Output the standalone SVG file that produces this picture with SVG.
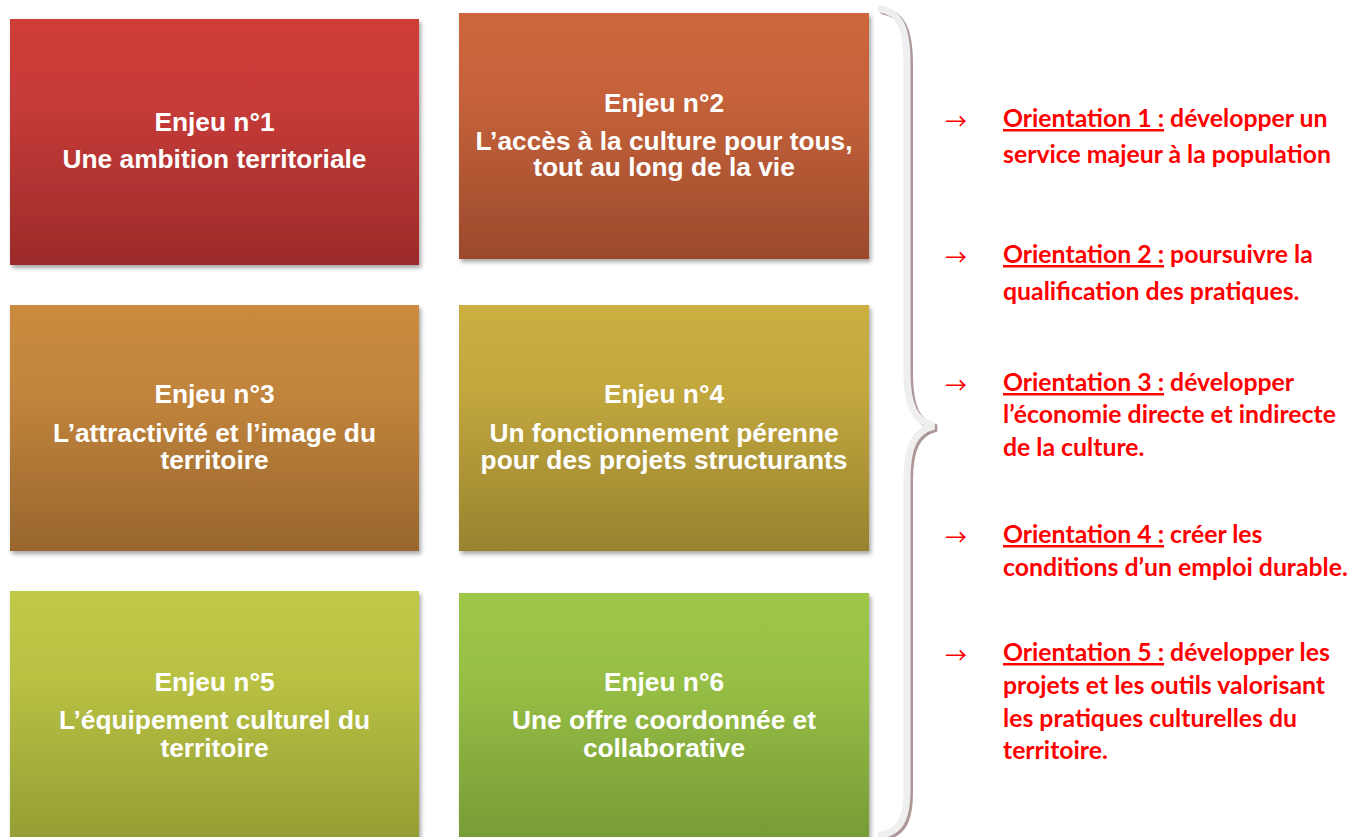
<svg xmlns="http://www.w3.org/2000/svg" width="1356" height="837" viewBox="0 0 1356 837">
<defs>
<linearGradient id="g1" x1="0" y1="0" x2="0" y2="1"><stop offset="0" stop-color="#cf3c39"/><stop offset="0.35" stop-color="#c63b38"/><stop offset="1" stop-color="#9b2b29"/></linearGradient>
<linearGradient id="g2" x1="0" y1="0" x2="0" y2="1"><stop offset="0" stop-color="#cd663c"/><stop offset="0.35" stop-color="#c5623a"/><stop offset="1" stop-color="#9b4a2c"/></linearGradient>
<linearGradient id="g3" x1="0" y1="0" x2="0" y2="1"><stop offset="0" stop-color="#ca8b3f"/><stop offset="0.35" stop-color="#c2853c"/><stop offset="1" stop-color="#98662e"/></linearGradient>
<linearGradient id="g4" x1="0" y1="0" x2="0" y2="1"><stop offset="0" stop-color="#cbaf41"/><stop offset="0.35" stop-color="#c2a73e"/><stop offset="1" stop-color="#98832f"/></linearGradient>
<linearGradient id="g5" x1="0" y1="0" x2="0" y2="1"><stop offset="0" stop-color="#c0c946"/><stop offset="0.35" stop-color="#b8c143"/><stop offset="1" stop-color="#949e34"/></linearGradient>
<linearGradient id="g6" x1="0" y1="0" x2="0" y2="1"><stop offset="0" stop-color="#9ec749"/><stop offset="0.35" stop-color="#97bf45"/><stop offset="1" stop-color="#779a36"/></linearGradient>
<filter id="sh" x="-5%" y="-5%" width="112%" height="115%"><feDropShadow dx="2" dy="3" stdDeviation="2.2" flood-color="#000" flood-opacity="0.35"/></filter>
<style>
.bt{font-family:"Liberation Sans",Arial,sans-serif;font-weight:bold;font-size:26.3px;fill:#ffffff;text-anchor:middle}
.ot{font-family:Lato,"Liberation Sans",sans-serif;font-weight:bold;font-size:24.8px;fill:#ff0000}
.ar{font-family:"Noto Sans CJK SC",sans-serif;font-size:22px;fill:#ff0000}
.ul{text-decoration:underline}
</style>
</defs>
<rect width="1356" height="837" fill="#ffffff"/>
<g id="enjeu1"><rect x="10" y="19" width="409" height="246" fill="url(#g1)" filter="url(#sh)"/>
<text class="bt" x="214.5" y="131">Enjeu n°1</text><text class="bt" x="214.5" y="168">Une ambition territoriale</text></g>
<g id="enjeu2"><rect x="459" y="13" width="410" height="246" fill="url(#g2)" filter="url(#sh)"/>
<text class="bt" x="664" y="112">Enjeu n°2</text><text class="bt" x="664" y="150">L’accès à la culture pour tous,</text><text class="bt" x="664" y="176">tout au long de la vie</text></g>
<g id="enjeu3"><rect x="10" y="305" width="409" height="246" fill="url(#g3)" filter="url(#sh)"/>
<text class="bt" x="214.5" y="403">Enjeu n°3</text><text class="bt" x="214.5" y="442">L’attractivité et l’image du</text><text class="bt" x="214.5" y="469">territoire</text></g>
<g id="enjeu4"><rect x="459" y="305" width="410" height="246" fill="url(#g4)" filter="url(#sh)"/>
<text class="bt" x="664" y="403">Enjeu n°4</text><text class="bt" x="664" y="442">Un fonctionnement pérenne</text><text class="bt" x="664" y="469">pour des projets structurants</text></g>
<g id="enjeu5"><rect x="10" y="591" width="409" height="250" fill="url(#g5)" filter="url(#sh)"/>
<text class="bt" x="214.5" y="691">Enjeu n°5</text><text class="bt" x="214.5" y="729">L’équipement culturel du</text><text class="bt" x="214.5" y="757">territoire</text></g>
<g id="enjeu6"><rect x="459" y="593" width="410" height="250" fill="url(#g6)" filter="url(#sh)"/>
<text class="bt" x="664" y="691">Enjeu n°6</text><text class="bt" x="664" y="729">Une offre coordonnée et</text><text class="bt" x="664" y="757">collaborative</text></g>
<g id="connectors">
<path d="M881 9 C898 12 907 26 907 62 L907 372 C907 405 914 421 934 426 C914 431 907 447 907 480 L907 790 C907 822 898 832 881 835" fill="none" stroke="#ae9797" stroke-width="7" stroke-linecap="round" transform="translate(2.5,2)"/>
<path d="M881 9 C898 12 907 26 907 62 L907 372 C907 405 914 421 934 426 C914 431 907 447 907 480 L907 790 C907 822 898 832 881 835" fill="none" stroke="#efefef" stroke-width="7" stroke-linecap="round"/>
</g>
<g id="orientation1"><text class="ar" x="945" y="129">→</text>
<text class="ot" x="1003" y="127"><tspan class="ul">Orientation 1 :</tspan> développer un</text><text class="ot" x="1003" y="163">service majeur à la population</text></g>
<g id="orientation2"><text class="ar" x="945" y="265">→</text>
<text class="ot" x="1003" y="263"><tspan class="ul">Orientation 2 :</tspan> poursuivre la</text><text class="ot" x="1003" y="300">qualification des pratiques.</text></g>
<g id="orientation3"><text class="ar" x="945" y="393">→</text>
<text class="ot" x="1003" y="391"><tspan class="ul">Orientation 3 :</tspan> développer</text><text class="ot" x="1003" y="423">l’économie directe et indirecte</text><text class="ot" x="1003" y="456">de la culture.</text></g>
<g id="orientation4"><text class="ar" x="945" y="545">→</text>
<text class="ot" x="1003" y="543"><tspan class="ul">Orientation 4 :</tspan> créer les</text><text class="ot" x="1003" y="576">conditions d’un emploi durable.</text></g>
<g id="orientation5"><text class="ar" x="945" y="663">→</text>
<text class="ot" x="1003" y="661"><tspan class="ul">Orientation 5 :</tspan> développer les</text><text class="ot" x="1003" y="694">projets et les outils valorisant</text><text class="ot" x="1003" y="727">les pratiques culturelles du</text><text class="ot" x="1003" y="759">territoire.</text></g>
</svg>
